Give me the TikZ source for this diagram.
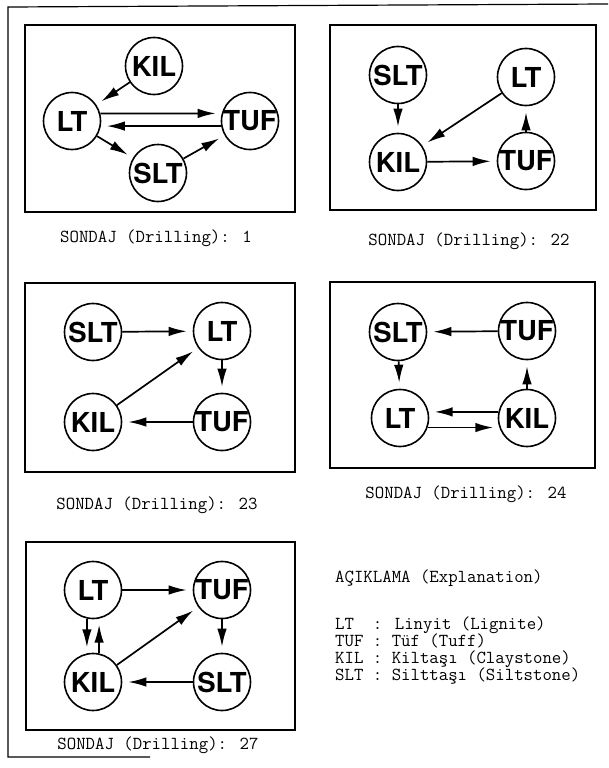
\documentclass[tikz,border=0pt]{standalone}
\usepackage{fontspec}
\newfontfamily\labelfont{TeX Gyre Heros}
\newfontfamily\typefont{Latin Modern Mono}
\usetikzlibrary{arrows.meta}
\begin{document}
\begin{tikzpicture}[x=1pt,y=-1pt,
  rock/.style={circle,draw,line width=1.6pt,minimum size=57pt,inner sep=0pt,
    font=\labelfont\bfseries\fontsize{27.5}{27.5}\selectfont},
  flow/.style={draw,line width=1.7pt,-{Latex[length=18pt,width=9.5pt]},shorten >=6pt},
  panel/.style={draw,line width=1.7pt},
  captext/.style={font=\typefont\fontsize{18.3}{20}\selectfont,inner sep=0pt},
  legend/.style={captext,anchor=base west},
]
\useasboundingbox (0,0) rectangle (608,768);

% page frame
\draw[line width=1.2pt] (150,757) -- (8,757) -- (8,7) -- (608,4);

% ---------- Drilling 1 ----------
\draw[panel] (25,25) rectangle (295,212);
\node[rock] (a-kil) at (154,66) {KIL};
\node[rock] (a-lt)  at (72,121) {LT};
\node[rock] (a-tuf) at (250,121) {TUF};
\node[rock] (a-slt) at (158,173) {SLT};
\draw[flow] (a-kil) -- (a-lt);
\draw[flow] (a-lt.15) -- (a-tuf.165);
\draw[flow] (a-tuf.-170) -- (a-lt.-10);
\draw[flow] (a-lt) -- (a-slt);
\draw[flow] (a-slt) -- (a-tuf);
\node[captext] (cap-a) at (156,238) {SONDAJ (Drilling): 1};

% ---------- Drilling 22 ----------
\draw[panel] (330,25) rectangle (596,210);
\node[rock] (b-slt) at (398,75) {SLT};
\node[rock] (b-lt)  at (526,77) {LT};
\node[rock] (b-kil) at (398,162) {KIL};
\node[rock] (b-tuf) at (526,161) {TUF};
\draw[flow] (b-slt) -- (b-kil);
\draw[flow] (b-lt) -- (b-kil);
\draw[flow] (b-kil) -- (b-tuf);
\draw[flow] (b-tuf) -- (b-lt);
\node[captext] (cap-b) at (469,241) {SONDAJ (Drilling): 22};

% ---------- Drilling 23 ----------
\draw[panel] (25,283) rectangle (295,472);
\node[rock] (c-slt) at (93,332) {SLT};
\node[rock] (c-lt)  at (222,331) {LT};
\node[rock] (c-kil) at (93,422) {KIL};
\node[rock] (c-tuf) at (222,422) {TUF};
\draw[flow] (c-slt) -- (c-lt);
\draw[flow] (c-lt) -- (c-tuf);
\draw[flow] (c-tuf) -- (c-kil);
\draw[flow] (c-kil) -- (c-lt);
\node[captext] (cap-c) at (157,505) {SONDAJ (Drilling): 23};

% ---------- Drilling 24 ----------
\draw[panel] (330,282) rectangle (595,468);
\node[rock] (d-slt) at (398,332) {SLT};
\node[rock] (d-tuf) at (527,331) {TUF};
\node[rock] (d-lt)  at (400,418) {LT};
\node[rock] (d-kil) at (527,418) {KIL};
\draw[flow] (d-tuf) -- (d-slt);
\draw[flow] (d-slt) -- (d-lt);
\draw[flow] (d-kil.168) -- (d-lt.12);
\draw[flow] (d-lt.-19) -- (d-kil.-161);
\draw[flow] (d-kil) -- (d-tuf);
\node[captext] (cap-d) at (466,494) {SONDAJ (Drilling): 24};

% ---------- Drilling 27 ----------
\draw[panel] (26,542) rectangle (295,730);
\node[rock] (e-lt)  at (93,590) {LT};
\node[rock] (e-tuf) at (222,590) {TUF};
\node[rock] (e-kil) at (93,682) {KIL};
\node[rock] (e-slt) at (222,682) {SLT};
\draw[flow] (e-lt) -- (e-tuf);
\draw[flow] (e-tuf) -- (e-slt);
\draw[flow] (e-slt) -- (e-kil);
\draw[flow] (e-kil) -- (e-tuf);
\draw[flow] (e-lt.-102) -- (e-kil.102);
\draw[flow] (e-kil.78) -- (e-lt.-78);
\node[captext] (cap-e) at (158,745) {SONDAJ (Drilling): 27};

% ---------- legend ----------
\node[legend] (leg-head) at (335,582) {AÇIKLAMA (Explanation)};
\node[legend] (leg-lt)  at (335,629) {LT\hphantom{X} : Linyit (Lignite)};
\node[legend] (leg-tuf) at (335,646) {TUF : Tüf (Tuff)};
\node[legend] (leg-kil) at (335,663) {KIL : Kiltaşı (Claystone)};
\node[legend] (leg-slt) at (335,680) {SLT : Silttaşı (Siltstone)};
\end{tikzpicture}
\end{document}
